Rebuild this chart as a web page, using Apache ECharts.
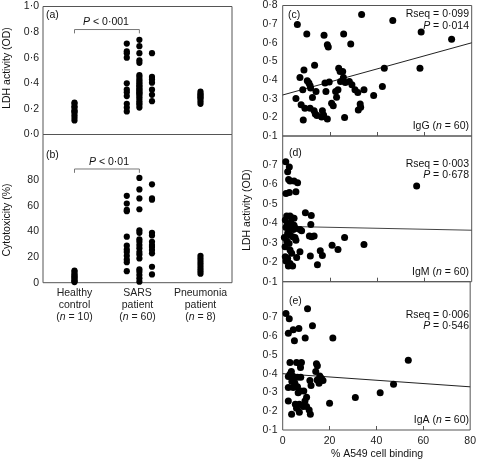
<!DOCTYPE html>
<html><head><meta charset="utf-8">
<script src="https://cdn.jsdelivr.net/npm/echarts@6/dist/echarts.min.js"></script>
<style>html,body{margin:0;padding:0;background:#fff}#c{width:479px;height:460px}</style>
</head><body><div id="c"></div>
<script>
// ---- data ----
const groupNames = ['Healthy', 'SARS', 'Pneumonia'];
const groupSub = ['control', 'patient', 'patient'];
const groupN = [10, 60, 8];

const healthyLDH = [0.11,0.13,0.15,0.17,0.18,0.19,0.21,0.22,0.24,0.25];
const sarsLDH1 = [0.71,0.65,0.635,0.60,0.40,0.35,0.33,0.30,0.24,0.21,0.18];
const sarsLDH2 = [0.74,0.69,0.635,0.58,0.56,0.465,0.45,0.43,0.415,0.40,0.385,0.375,0.36,0.35,0.34,0.33,0.32,0.31,0.295,0.28,0.26,0.245,0.23,0.21];
const sarsLDH3 = [0.635,0.45,0.43,0.405,0.35,0.31,0.26];
const pneuLDH = [0.335,0.32,0.31,0.30,0.29,0.28,0.26,0.24];

const healthyCyt = [9.5,8.5,7,6,5,4,3,2,1,0.5];
const sarsCyt1 = [68,62,57,56,36,29,26,24,21,18,16,9];
const sarsCyt2 = [82,73,66,57.5,41,39,34,32,29.5,27,24,22,19,10.5,8.6,6,3.4,0.8];
const sarsCyt3 = [77,66,65,39,37,32,29.5,28,25.6,23,12.5,6.5];
const pneuCyt = [21,19,17,15,13,11,9,7];

const bracketA = [0.79, 0.82];
const bracketB = [86, 89];

const igG = [[6.2,0.698],[10.2,0.647],[17.5,0.640],[18.9,0.590],[19.3,0.578],[25.8,0.647],[28.8,0.594],[33.4,0.752],[46.6,0.719],[58.6,0.658],[71.5,0.619],[58.1,0.463],[43.0,0.463],[38.5,0.317],[42.2,0.366],[13.5,0.479],[9.0,0.454],[7.3,0.414],[10.4,0.396],[11.1,0.384],[11.6,0.369],[11.8,0.357],[8.5,0.348],[14.1,0.339],[12.6,0.306],[5.6,0.301],[7.8,0.267],[9.4,0.249],[11.6,0.249],[13.3,0.235],[13.8,0.218],[14.5,0.210],[8.7,0.186],[16.8,0.235],[17.3,0.213],[16.5,0.202],[18.9,0.191],[17.9,0.384],[19.7,0.389],[18.3,0.339],[20.7,0.276],[21.4,0.262],[22.4,0.339],[22.8,0.308],[23.4,0.348],[23.7,0.464],[24.3,0.446],[25.4,0.446],[24.5,0.393],[25.7,0.414],[26.5,0.387],[26.2,0.199],[28.2,0.393],[29.3,0.375],[31.8,0.333],[30.6,0.348],[34.4,0.348],[32.8,0.272],[33.0,0.254],[32.0,0.240]];
const igM = [[1.3,0.717],[2.8,0.691],[2.1,0.666],[2.5,0.626],[3.1,0.619],[4.8,0.619],[6.3,0.609],[5.6,0.563],[2.8,0.559],[1.4,0.554],[56.7,0.592],[9.6,0.455],[12.1,0.441],[3.1,0.438],[3.8,0.429],[4.8,0.426],[1.8,0.391],[1.4,0.379],[2.8,0.374],[4.5,0.369],[5.5,0.374],[7.3,0.369],[8.0,0.362],[11.9,0.395],[2.1,0.349],[3.1,0.340],[4.2,0.331],[5.2,0.328],[11.3,0.335],[12.3,0.331],[13.3,0.335],[1.7,0.309],[2.7,0.297],[5.6,0.314],[26.2,0.328],[34.4,0.292],[20.9,0.287],[23.4,0.266],[15.9,0.259],[16.8,0.235],[7.3,0.254],[5.9,0.225],[11.7,0.232],[14.7,0.187],[3.8,0.246],[1.1,0.229],[2.1,0.220],[1.4,0.206],[3.1,0.194],[2.4,0.181],[4.2,0.181],[1.1,0.417],[1.7,0.438],[3.4,0.403],[4.2,0.391],[0.7,0.328],[1.0,0.280],[3.1,0.263],[4.8,0.391]];
const igA = [[1.4,0.72],[2.8,0.693],[10.6,0.746],[2.4,0.616],[4.5,0.634],[6.9,0.641],[12.7,0.655],[5.0,0.575],[9.6,0.590],[21.4,0.590],[53.6,0.472],[3.1,0.460],[5.9,0.460],[7.3,0.453],[8.0,0.460],[14.4,0.453],[14.8,0.442],[7.6,0.433],[3.7,0.412],[14.1,0.412],[3.1,0.397],[4.2,0.388],[2.4,0.385],[5.3,0.381],[6.3,0.381],[7.7,0.381],[15.8,0.388],[16.5,0.376],[17.2,0.364],[14.7,0.367],[11.6,0.364],[3.9,0.358],[5.2,0.349],[15.5,0.349],[12.1,0.337],[6.3,0.331],[2.4,0.326],[4.5,0.326],[7.6,0.308],[9.0,0.308],[6.6,0.299],[47.3,0.344],[41.6,0.299],[31.0,0.273],[20.0,0.242],[10.2,0.274],[9.5,0.255],[2.4,0.255],[5.4,0.237],[7.1,0.237],[8.7,0.225],[10.2,0.225],[5.9,0.216],[11.3,0.207],[7.1,0.194],[3.8,0.184],[11.8,0.184]];

const fitG = [[0,0.32],[80,0.60]];
const fitM = [[0,0.385],[80,0.365]];
const fitA = [[0,0.40],[80,0.33]];

const statsText = [
  ['Rseq = 0·099', '0·014', 'IgG'],
  ['Rseq = 0·003', '0·678', 'IgM'],
  ['Rseq = 0·006', '0·546', 'IgA']
];

// ---- positions of columns (category layout) ----
const colX = {healthy: 0.5, sars: [1.33, 1.53, 1.73], pneu: 2.5};

const FONT = 'Liberation Sans, Arial, sans-serif';
const FS = 10.5;
const dot = '#000';
const frame = '#555';

function col(x, arr){ return arr.map(v => [x, v]); }
const fmt1 = v => v.toFixed(1).replace('.', '·');

function scat(xi, yi, data, size){
  return {type:'scatter', xAxisIndex:xi, yAxisIndex:yi, data, symbolSize:size,
    itemStyle:{color:dot, opacity:1}, silent:true, z:3};
}
function line(xi, yi, data, color){
  return {type:'line', xAxisIndex:xi, yAxisIndex:yi, data, symbol:'none',
    lineStyle:{color:color, width:1}, silent:true, z:2, animation:false};
}

const grids = [
  {left:43, top:6.5, width:189, height:128},
  {left:43, top:134.5, width:189, height:148.2},
  {left:282.7, top:5.5, width:189, height:130.5},
  {left:282.7, top:136, width:189, height:145.7},
  {left:282.7, top:281.7, width:189, height:148.3}
].map(g => Object.assign({show:true, borderColor:frame, borderWidth:1, backgroundColor:'transparent'}, g));

const baseX = {type:'value', splitLine:{show:false}, axisLine:{show:false}};
const xAxes = [
  Object.assign({gridIndex:0, min:0, max:3, axisLabel:{show:false}, axisTick:{show:false}}, baseX),
  Object.assign({gridIndex:1, min:0, max:3, axisTick:{show:false},
    axisLabel:{customValues:[0.5,1.5,2.5], margin:5, color:'#222', fontFamily:FONT, fontSize:FS, lineHeight:11.8,
      formatter: v => { const i = Math.round(v - 0.5); return groupNames[i] + '\n' + groupSub[i] + '\n({n|n} = ' + groupN[i] + ')'; },
      rich:{n:{fontStyle:'italic', fontFamily:FONT, fontSize:FS, lineHeight:11.8, color:'#222'}}}}, baseX),
];
for (let k = 2; k < 5; k++) {
  xAxes.push(Object.assign({gridIndex:k, min:0, max:80, interval:20,
    axisTick:{show:true, inside:true, length:4, lineStyle:{color:frame}, customValues:[20,40,60]},
    axisLabel:{show:k===4, customValues:[0,20,40,60,80], margin:6, color:'#222', fontFamily:FONT, fontSize:FS}}, baseX));
}

const baseY = {type:'value', splitLine:{show:false}, axisLine:{show:false}, axisTick:{show:false}};
const yLab = (vals, f, m) => ({customValues:vals, formatter:f, margin:m, color:'#222', fontFamily:FONT, fontSize:FS});
const rv = [0.1,0.2,0.3,0.4,0.5,0.6,0.7];
const yAxes = [
  Object.assign({gridIndex:0, min:0, max:1, axisLabel:yLab([0,0.2,0.4,0.6,0.8,1.0], fmt1, 4)}, baseY),
  Object.assign({gridIndex:1, min:0, max:116, axisLabel:yLab([0,20,40,60,80], v => String(v), 4)}, baseY),
  Object.assign({gridIndex:2, min:0.1, max:0.8, axisLabel:yLab(rv.concat([0.8]), fmt1, 5)}, baseY),
  Object.assign({gridIndex:3, min:0.1, max:0.85, axisLabel:yLab(rv, fmt1, 5)}, baseY),
  Object.assign({gridIndex:4, min:0.1, max:0.89, axisLabel:yLab(rv, fmt1, 5)}, baseY)
];

const S1 = 6.2, S2 = 7;
const series = [
  scat(0,0,col(colX.healthy, healthyLDH),S1),
  scat(0,0,col(colX.sars[0], sarsLDH1),S1),
  scat(0,0,col(colX.sars[1], sarsLDH2),S1),
  scat(0,0,col(colX.sars[2], sarsLDH3),S1),
  scat(0,0,col(colX.pneu, pneuLDH),S1),
  line(0,0,[[colX.healthy,bracketA[0]],[colX.healthy,bracketA[1]],[colX.sars[1],bracketA[1]],[colX.sars[1],bracketA[0]]], '#777'),
  scat(1,1,col(colX.healthy, healthyCyt),S1),
  scat(1,1,col(colX.sars[0], sarsCyt1),S1),
  scat(1,1,col(colX.sars[1], sarsCyt2),S1),
  scat(1,1,col(colX.sars[2], sarsCyt3),S1),
  scat(1,1,col(colX.pneu, pneuCyt),S1),
  line(1,1,[[colX.healthy,bracketB[0]],[colX.healthy,bracketB[1]],[colX.sars[1],bracketB[1]],[colX.sars[1],bracketB[0]]], '#777'),
  scat(2,2,igG,S2), line(2,2,fitG,'#222'),
  scat(3,3,igM,S2), line(3,3,fitM,'#444'),
  scat(4,4,igA,S2), line(4,4,fitA,'#222')
];

const rich = {i:{fontStyle:'italic', fontFamily:FONT, fontSize:FS, fill:'#111'}};
function txt(x, y, text, align, extra){
  return Object.assign({type:'text', x, y, silent:true, z:10,
    style:{text, fill:'#111', font:FS + 'px ' + FONT, align:align||'left', verticalAlign:'middle', rich}}, extra||{});
}
const graphics = [
  txt(46, 15, '(a)'), txt(46, 155, '(b)'),
  txt(288, 15, '(c)'), txt(289, 153, '(d)'), txt(289, 301.5, '(e)'),
  txt(106, 22.5, '{i|P} < 0·001', 'center'),
  txt(109, 162.5, '{i|P} < 0·01', 'center'),
  txt(7, 68, 'LDH activity (OD)', 'center', {rotation:Math.PI/2}),
  txt(7, 220, 'Cytotoxicity (%)', 'center', {rotation:Math.PI/2}),
  txt(247, 210, 'LDH activity (OD)', 'center', {rotation:Math.PI/2}),
  txt(377, 454, '% A549 cell binding', 'center')
];
const statY = [[14, 26.5, 126], [164, 175, 271.7], [315, 326, 420]];
statsText.forEach((s, k) => {
  graphics.push(txt(469, statY[k][0], s[0], 'right'));
  graphics.push(txt(469, statY[k][1], '{i|P} = ' + s[1], 'right'));
  graphics.push(txt(469, statY[k][2], s[2] + ' ({i|n} = 60)', 'right'));
});

const chart = echarts.init(document.getElementById('c'), null, {renderer:'canvas'});
chart.setOption({animation:false, grid:grids, xAxis:xAxes, yAxis:yAxes, series, graphic:graphics});
</script></body></html>
